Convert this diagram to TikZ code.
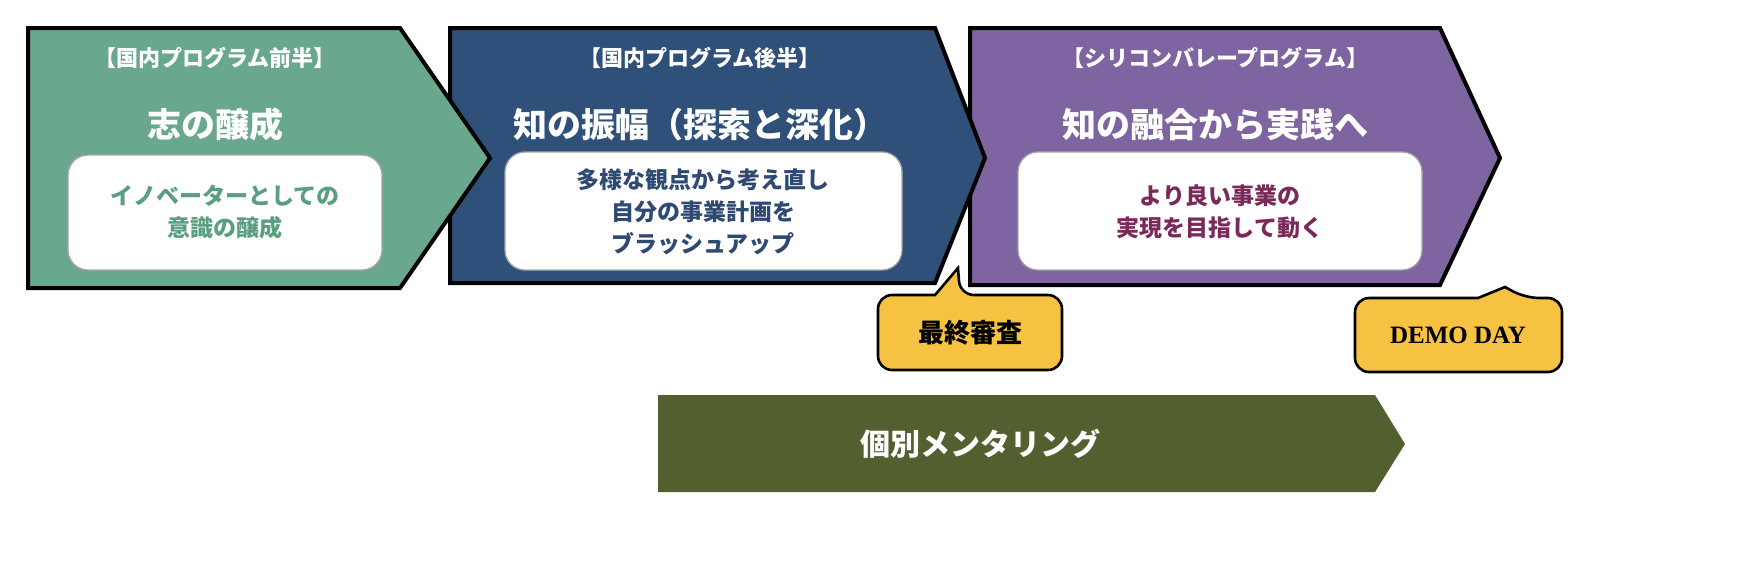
\documentclass[tikz,border=0pt]{standalone}
\usepackage{fontspec}
\newfontfamily\cjk{Noto Sans CJK JP}
\newfontfamily\serifb{Liberation Serif}
\definecolor{phaseA}{HTML}{6AA88E}
\definecolor{phaseB}{HTML}{2F5078}
\definecolor{phaseC}{HTML}{7E64A0}
\definecolor{callout}{HTML}{F5C242}
\definecolor{mentor}{HTML}{52602F}
\definecolor{textA}{HTML}{5A9E80}
\definecolor{textB}{HTML}{2F4A72}
\definecolor{textC}{HTML}{7A2A5A}
\tikzset{
  phase/.style={draw=black,line width=2pt,line join=miter},
  inbox/.style={draw=black!35,fill=white,rounded corners=10pt,line width=0.65pt},
  head/.style={font=\cjk\bfseries\fontsize{11}{13}\selectfont,text=white},
  title/.style={font=\cjk\bfseries\fontsize{17}{20}\selectfont,text=white},
  body/.style={font=\cjk\bfseries\fontsize{11.5}{16}\selectfont,align=center}
}
\begin{document}
\begin{tikzpicture}[x=0.5pt,y=-0.5pt]
            \useasboundingbox (0,0) rectangle (1738,586);

            % phases
            \draw [phase,fill=phaseC] (970,28) -- (1440,28) -- (1500,158) -- (1440,285) -- (970,285) -- cycle;
            \draw [phase,fill=phaseB] (450,28) -- (935,28) -- (985,158) -- (935,283) -- (450,283) -- cycle;
            \draw [phase,fill=phaseA] (28,28) -- (400,28) -- (490,158) -- (400,288) -- (28,288) -- cycle;

            \draw [inbox] (68,155) rectangle (382,270);
            \draw [inbox] (505,152) rectangle (902,270);
            \draw [inbox] (1018,152) rectangle (1422,270);

            \node [head]  (hA) at (215,58)  {【国内プログラム前半】};
            \node [title] (tA) at (215,125) {志の醸成};
            \node [body,text=textA] (bA) at (225,212) {イノベーターとしての\\意識の醸成};

            \node [head]  (hB) at (700,58)  {【国内プログラム後半】};
            \node [title] (tB) at (700,125) {知の振幅（探索と深化）};
            \node [body,text=textB] (bB) at (703,212) {多様な観点から考え直し\\自分の事業計画を\\ブラッシュアップ};

            \node [head]  (hC) at (1215,58)  {【シリコンバレープログラム】};
            \node [title] (tC) at (1215,125) {知の融合から実践へ};
            \node [body,text=textC] (bC) at (1220,212) {より良い事業の\\実現を目指して動く};

            % callouts
            \draw [draw=black,line width=1.3pt,fill=callout,rounded corners=7pt]
                (878,330) -- (878,370) -- (1062,370) -- (1062,295) -- (960,295)
                [sharp corners] -- (958,268) -- (935,295) [rounded corners=7pt] -- (878,295) -- (878,330);
            \node [font=\cjk\bfseries\fontsize{13}{15}\selectfont] (review) at (970,333) {最終審査};

            \draw [draw=black,line width=1.3pt,fill=callout,rounded corners=7pt]
                (1355,335) -- (1355,372) -- (1562,372) -- (1562,298) -- (1525,298)
                [sharp corners] -- (1505,287) -- (1478,298) [rounded corners=7pt] -- (1355,298) -- (1355,335);
            \node [font=\serifb\bfseries\fontsize{12.5}{15}\selectfont] (demo) at (1458,335) {DEMO DAY};

            % mentoring
            \fill [mentor] (658,395) -- (1375,395) -- (1405,444) -- (1375,492) -- (658,492) -- cycle;
            \node [title,font=\cjk\bfseries\fontsize{15}{18}\selectfont] (ment) at (980,444) {個別メンタリング};
\end{tikzpicture}
\end{document}
